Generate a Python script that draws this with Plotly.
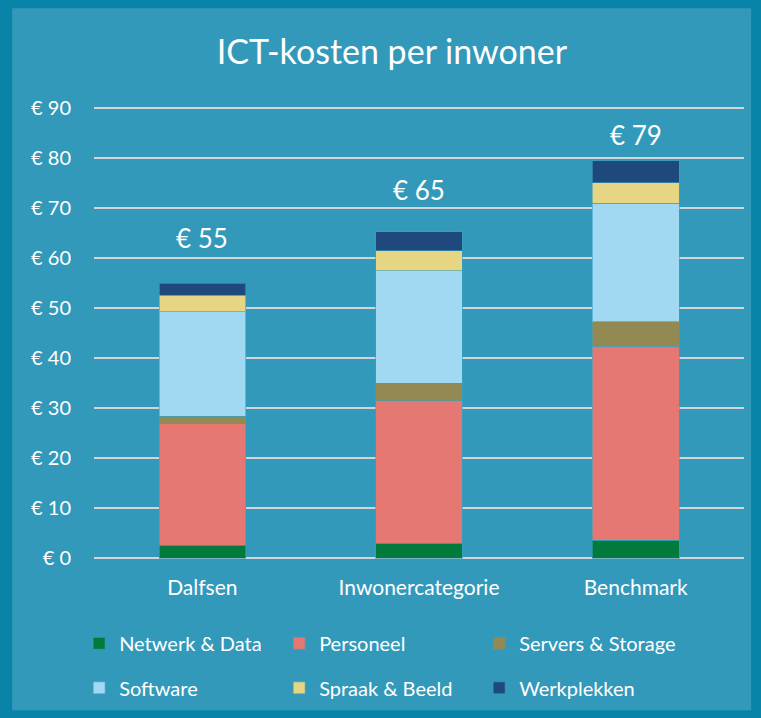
import plotly.graph_objects as go

categories = ["Dalfsen", "Inwonercategorie", "Benchmark"]
netwerk = [2.65, 3.0, 3.6]
personeel = [24.3, 28.45, 38.8]
servers = [1.45, 3.55, 4.8]
software = [20.8, 22.4, 23.7]
spraak = [3.3, 4.0, 4.1]
werkplekken = [2.4, 3.8, 4.4]
y_ticks = [0, 10, 20, 30, 40, 50, 60, 70, 80, 90]
y_tick_text = [f"€ {v}" for v in y_ticks]

series = [
    ("Netwerk & Data", netwerk, "#017B3B", "legend"),
    ("Personeel", personeel, "#E57873", "legend"),
    ("Servers & Storage", servers, "#938953", "legend"),
    ("Software", software, "#A1D9F3", "legend2"),
    ("Spraak & Beeld", spraak, "#E6D583", "legend2"),
    ("Werkplekken", werkplekken, "#1F497D", "legend2"),
]

FONT = "Lato, Open Sans, sans-serif"
fig = go.Figure()
for name, vals, color, lg in series:
    fig.add_trace(go.Bar(
        x=categories, y=vals, name=name, legend=lg,
        marker=dict(color=color, line=dict(color="rgba(60,160,190,0.6)", width=1)),
    ))

totals = [sum(v) for v in zip(netwerk, personeel, servers, software, spraak, werkplekken)]
label_shift = [45, 42, 26]
for cat, tot, sh in zip(categories, totals, label_shift):
    fig.add_annotation(x=cat, y=tot, text=f"€ {round(tot)}", showarrow=False,
                       yanchor="middle", yshift=sh,
                       font=dict(family=FONT, size=26, color="white"))

# inner panel (plot area: x 94..744, y 104.8..560.8)
fig.add_shape(type="rect", xref="paper", yref="paper",
              x0=-0.126, x1=1.011, y0=-0.3272, y1=1.2123,
              fillcolor="#3399BA", line=dict(width=0), layer="below")

legend_common = dict(orientation="h", xref="container", yref="container",
                     xanchor="left", yanchor="middle",
                     entrywidth=155, entrywidthmode="pixels",
                     traceorder="normal",
                     font=dict(family=FONT, size=20, color="white"),
                     bgcolor="rgba(0,0,0,0)")

fig.update_layout(
    width=761, height=718,
    margin=dict(l=94, r=17, t=104.8, b=157.2, autoexpand=False),
    paper_bgcolor="#0884A8", plot_bgcolor="rgba(0,0,0,0)",
    barmode="stack", bargap=0.6,
    title=dict(text="ICT-kosten per inwoner", x=0.515, xanchor="center",
               y=0.927, yanchor="middle", yref="container",
               font=dict(family=FONT, size=34, color="white")),
    font=dict(family=FONT, size=20, color="white"),
    xaxis=dict(showgrid=False, showline=False, zeroline=False,
               ticks="", ticklabelstandoff=12,
               tickfont=dict(family=FONT, size=21, color="white")),
    yaxis=dict(range=[-0.5, 90.5], tickmode="array", tickvals=y_ticks,
               ticktext=y_tick_text,
               showgrid=True, gridcolor="#D4D4D4", gridwidth=2,
               zeroline=False, showline=False, ticks="",
               ticklabelstandoff=22,
               tickfont=dict(family=FONT, size=20, color="white")),
    legend=dict(legend_common, x=0.104, y=0.104),
    legend2=dict(legend_common, x=0.104, y=0.042),
)

fig.write_html("out.html",
               config={"displayModeBar": False},
               post_script="document.body.style.margin='0px';document.body.style.overflow='hidden';")
